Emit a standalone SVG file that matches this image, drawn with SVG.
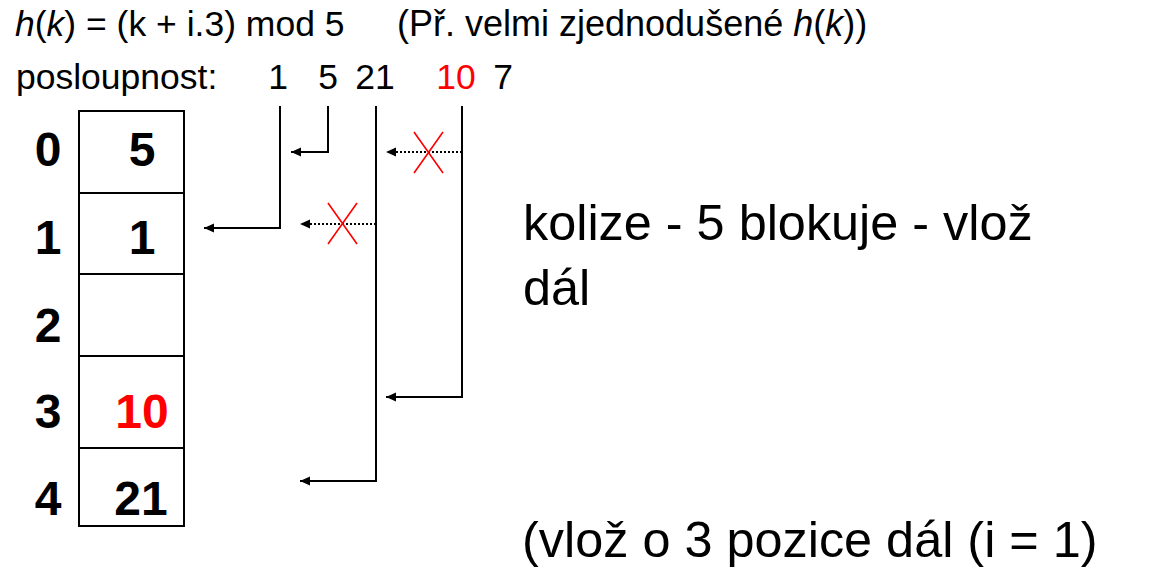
<svg xmlns="http://www.w3.org/2000/svg" width="1149" height="587" viewBox="0 0 1149 587">
<style>
text{font-family:"Liberation Sans",Arial,sans-serif;fill:#000}
.hd{font-size:35.5px}
.hd2{font-size:36px}
.big{font-size:50.4px}
.num{font-size:48px;font-weight:bold}
.red{fill:#ff0000}
.it{font-style:italic}
.cell{fill:#fff;stroke:#000;stroke-width:2}
.ln{fill:none;stroke:#000;stroke-width:2}
.dot{fill:none;stroke:#000;stroke-width:2;stroke-dasharray:2 2}
.x{stroke:#ff0000;stroke-width:1.6}
</style>
<defs>
<marker id="ah" markerUnits="userSpaceOnUse" markerWidth="11" markerHeight="10" refX="10" refY="4.5" orient="auto">
<path d="M0,0 L10,4.5 L0,9 z" fill="#000"/>
</marker>
</defs>
<rect width="1149" height="587" fill="#fff"/>
<g id="header">
<text class="hd" x="15" y="36"><tspan class="it">h</tspan>(<tspan class="it">k</tspan>) = (k + i.3) mod 5</text>
<text class="hd2" x="397" y="36">(Př. velmi zjednodušené <tspan class="it">h</tspan>(<tspan class="it">k</tspan>))</text>
<text class="hd" x="16" y="89">posloupnost:</text>
<text class="hd" x="278" y="89" text-anchor="middle">1</text>
<text class="hd" x="328" y="89" text-anchor="middle">5</text>
<text class="hd" x="375" y="89" text-anchor="middle">21</text>
<text class="hd red" x="456" y="89" text-anchor="middle">10</text>
<text class="hd" x="503" y="89" text-anchor="middle">7</text>
</g>
<g id="table">
<g id="row0"><rect class="cell" x="79" y="111" width="105" height="82"/><text class="num" x="48" y="166" text-anchor="middle">0</text><text class="num" x="142" y="166" text-anchor="middle">5</text></g>
<g id="row1"><rect class="cell" x="79" y="193" width="105" height="81"/><text class="num" x="48" y="254" text-anchor="middle">1</text><text class="num" x="142" y="254" text-anchor="middle">1</text></g>
<g id="row2"><rect class="cell" x="79" y="274" width="105" height="82"/><text class="num" x="48" y="342" text-anchor="middle">2</text></g>
<g id="row3"><rect class="cell" x="79" y="356" width="105" height="92"/><text class="num" x="48" y="428" text-anchor="middle">3</text><text class="num red" x="142" y="428" text-anchor="middle">10</text></g>
<g id="row4"><rect class="cell" x="79" y="448" width="105" height="78"/><text class="num" x="48" y="515" text-anchor="middle">4</text><text class="num" x="141" y="515" text-anchor="middle">21</text></g>
</g>
<g id="connectors">
<path class="ln" d="M280 106 V228 H204" marker-end="url(#ah)"/>
<path class="ln" d="M328 106 V152 H291" marker-end="url(#ah)"/>
<path class="ln" d="M376 106 V481 H300" marker-end="url(#ah)"/>
<path class="ln" d="M462 106 V397 H386" marker-end="url(#ah)"/>
<path class="dot" d="M376 224 H300" marker-end="url(#ah)"/>
<path class="dot" d="M462 152 H386" marker-end="url(#ah)"/>
</g>
<g id="crosses">
<path class="x" d="M328 203 L357 244 M357 203 L328 244"/>
<path class="x" d="M414 132 L443 173 M443 132 L414 173"/>
</g>
<g id="notes">
<text class="big" x="523" y="240">kolize - 5 blokuje - vlož</text>
<text class="big" x="523" y="305">dál</text>
<text class="big" x="522" y="557">(vlož o 3 pozice dál (i = 1)</text>
</g>
</svg>
